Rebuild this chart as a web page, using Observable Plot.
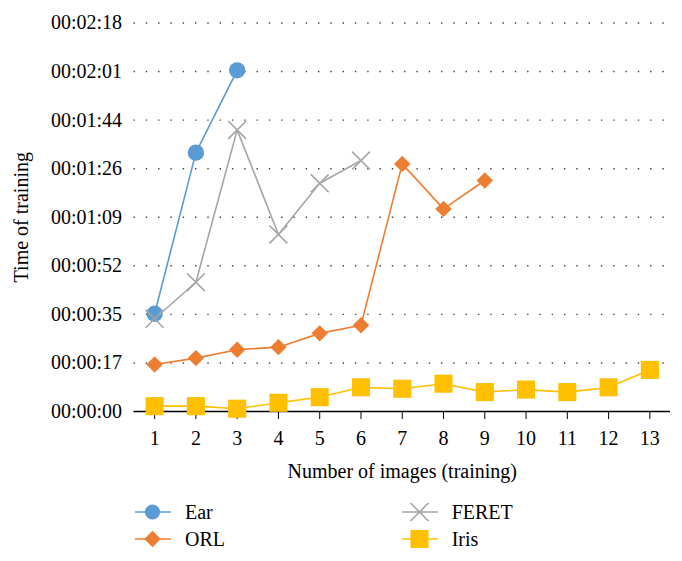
<!DOCTYPE html>
<html>
<head>
<meta charset="utf-8">
<script src="https://cdn.jsdelivr.net/npm/d3@7"></script>
<script src="https://cdn.jsdelivr.net/npm/@observablehq/plot@0.6"></script>
<style>
  html, body { margin: 0; padding: 0; background: #fff; }
  #wrap { position: relative; width: 682px; height: 561px; font-family: "Liberation Serif", serif; }
  .leg { position: absolute; display: flex; align-items: center; font-size: 20px; color: #000; font-family: "Liberation Serif", serif; }
  .leg span { font-family: "Liberation Serif", serif; font-size: 20px; }
  .leg svg { display: block; }
</style>
</head>
<body>
<div id="wrap"></div>
<script>
// ---- data ----
const imageCounts = [1, 2, 3, 4, 5, 6, 7, 8, 9, 10, 11, 12, 13];
const seriesNames = ["Ear", "FERET", "ORL", "Iris"];
const earSeconds   = [34.8, 92.1, 121.4];
const feretSeconds = [33.0, 46.0, 100.2, 63.0, 81.2, 89.3];
const orlSeconds   = [16.7, 19.0, 22.0, 22.9, 27.8, 30.7, 88.1, 72.1, 82.2];
const irisSeconds  = [1.9, 1.9, 1.0, 3.1, 5.1, 8.6, 8.1, 9.9, 6.9, 7.8, 6.9, 8.6, 14.8];
const yTickValues  = [0, 17.28, 34.56, 51.84, 69.12, 86.4, 103.68, 120.96, 138.24];
const yTickLabels  = ["00:00:00", "00:00:17", "00:00:35", "00:00:52", "00:01:09", "00:01:26", "00:01:44", "00:02:01", "00:02:18"];
const xLabel = "Number of images (training)";
const yLabel = "Time of training";

// ---- styles ----
const colors  = {Ear: "#5B9BD5", FERET: "#A5A5A5", ORL: "#ED7D31", Iris: "#FFC000"};
const symbols = {Ear: "circle", FERET: "times", ORL: "diamond2", Iris: "square"};
const radii   = {Ear: 8.2, FERET: 8.2, ORL: 7.4, Iris: 10.2};

const valuesBy = {Ear: earSeconds, FERET: feretSeconds, ORL: orlSeconds, Iris: irisSeconds};
const rows = seriesNames.flatMap(s => valuesBy[s].map((v, i) => ({series: s, x: imageCounts[i], y: v})));

const marks = [
  Plot.gridY(yTickValues.slice(1), {stroke: "#444", strokeOpacity: 1, strokeWidth: 1.4, strokeDasharray: "1.4,10.9"}),
  Plot.ruleY([0], {stroke: "#000", strokeWidth: 1.3}),
  Plot.axisY({ticks: yTickValues, tickFormat: (d, i) => yTickLabels[i], tickSize: 0, tickPadding: 12,
    label: yLabel, labelAnchor: "center", labelArrow: "none", labelOffset: 120}),
  Plot.axisX({ticks: imageCounts, tickSize: 8, tickPadding: 11, label: xLabel, labelAnchor: "center",
    labelArrow: "none", labelOffset: 66, stroke: "#000"}),
];
for (const s of seriesNames) {
  const data = rows.filter(d => d.series === s);
  marks.push(Plot.line(data, {x: "x", y: "y", stroke: colors[s], strokeWidth: 1.6}));
  if (s === "FERET") {
    marks.push(Plot.dot(data, {x: "x", y: "y", symbol: symbols[s], r: radii[s], stroke: colors[s], strokeWidth: 1.6}));
  } else {
    marks.push(Plot.dot(data, {x: "x", y: "y", symbol: symbols[s], r: radii[s], fill: colors[s], stroke: "none"}));
  }
}

const chart = Plot.plot({
  width: 682,
  height: 490,
  marginLeft: 133.5,
  marginRight: 12,
  marginTop: 22.5,
  marginBottom: 79,
  style: {fontFamily: "Liberation Serif, serif", fontSize: "20px", color: "#000", background: "#fff"},
  x: {type: "linear", domain: [0.5, 13.5]},
  y: {domain: [0, 138.24]},
  marks
});
const wrap = document.getElementById("wrap");
wrap.appendChild(chart);

// ---- legend (HTML, below the SVG) ----
const legendOrder = ["Ear", "FERET", "ORL", "Iris"];
const legendPos = {Ear: [135, 511.7], FERET: [401.7, 511.7], ORL: [135, 539.3], Iris: [401.7, 539.3]};
for (const s of legendOrder) {
  const [lx, ly] = legendPos[s];
  const div = document.createElement("div");
  div.className = "leg";
  div.style.left = lx + "px";
  div.style.top = (ly - 12) + "px";
  div.style.height = "24px";
  const sym = d3.symbol().type({circle: d3.symbolCircle, times: d3.symbolTimes, diamond2: d3.symbolDiamond2, square: d3.symbolSquare}[symbols[s]])
    .size(Math.PI * radii[s] * radii[s] * (s === "Ear" ? 0.85 : 1));
  const isStroke = s === "FERET";
  div.innerHTML = `<svg width="36" height="24" viewBox="0 0 36 24">
      <line x1="0" x2="36" y1="12" y2="12" stroke="${colors[s]}" stroke-width="1.6"/>
      <path d="${sym()}" transform="translate(17.5,12)" ${isStroke ? `fill="none" stroke="${colors[s]}" stroke-width="1.6"` : `fill="${colors[s]}"`}/>
    </svg><span style="margin-left:14px; line-height:24px;">${s}</span>`;
  wrap.appendChild(div);
}
</script>
</body>
</html>
